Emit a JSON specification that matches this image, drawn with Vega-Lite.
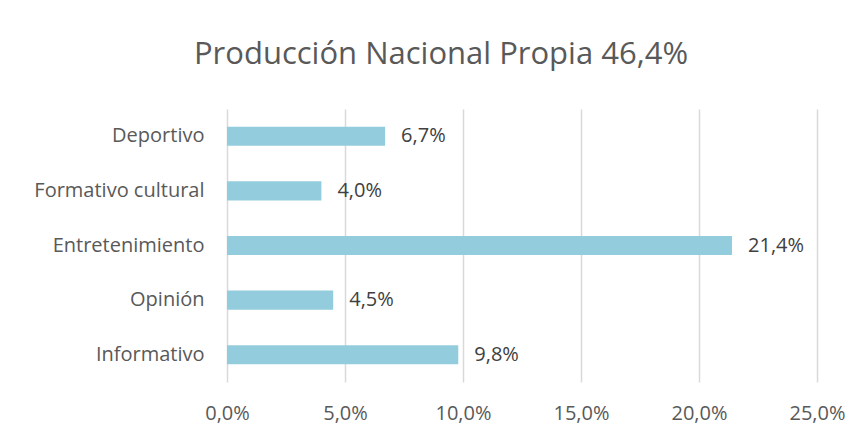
{
  "$schema": "https://vega.github.io/schema/vega-lite/v6.json",
  "autosize": {"type": "none"},
  "padding": {"left": 227, "top": 109, "right": 45, "bottom": 54},
  "width": 590,
  "height": 273,
  "background": "white",
  "config": {
    "locale": {"number": {"decimal": ",", "thousands": ".", "grouping": [3], "currency": ["", " €"]}},
    "view": {"stroke": null},
    "font": "Open Sans"
  },
  "title": {
    "text": "Producción Nacional Propia 46,4%",
    "fontSize": 31,
    "font": "Open Sans",
    "fontWeight": "normal",
    "color": "#595959",
    "anchor": "middle",
    "dx": -81,
    "offset": 38
  },
  "data": {
    "values": [
      {"categoria": "Deportivo", "valor": 0.067},
      {"categoria": "Formativo cultural", "valor": 0.040},
      {"categoria": "Entretenimiento", "valor": 0.214},
      {"categoria": "Opinión", "valor": 0.045},
      {"categoria": "Informativo", "valor": 0.098}
    ]
  },
  "encoding": {
    "y": {
      "field": "categoria",
      "type": "nominal",
      "sort": null,
      "scale": {"paddingInner": 0.65, "paddingOuter": 0.325},
      "axis": {
        "title": null,
        "domain": false,
        "ticks": false,
        "grid": false,
        "labelFontSize": 20,
        "labelColor": "#595959",
        "labelPadding": 23,
        "labelFont": "Open Sans"
      }
    },
    "x": {
      "field": "valor",
      "type": "quantitative",
      "scale": {"domain": [0, 0.25], "nice": false},
      "axis": {
        "title": null,
        "format": ".1%",
        "values": [0, 0.05, 0.1, 0.15, 0.2, 0.25],
        "domain": false,
        "ticks": false,
        "grid": true,
        "gridColor": "#d9d9d9",
        "gridWidth": 1.5,
        "labelFlush": false,
        "labelFontSize": 20,
        "labelColor": "#595959",
        "labelPadding": 21,
        "labelFont": "Open Sans"
      }
    }
  },
  "layer": [
    {
      "mark": {"type": "bar", "color": "#93CDDD"}
    },
    {
      "mark": {"type": "text", "align": "left", "dx": 16, "fontSize": 20, "color": "#404040", "font": "Open Sans"},
      "encoding": {
        "text": {"field": "valor", "type": "quantitative", "format": ".1%"}
      }
    }
  ]
}
